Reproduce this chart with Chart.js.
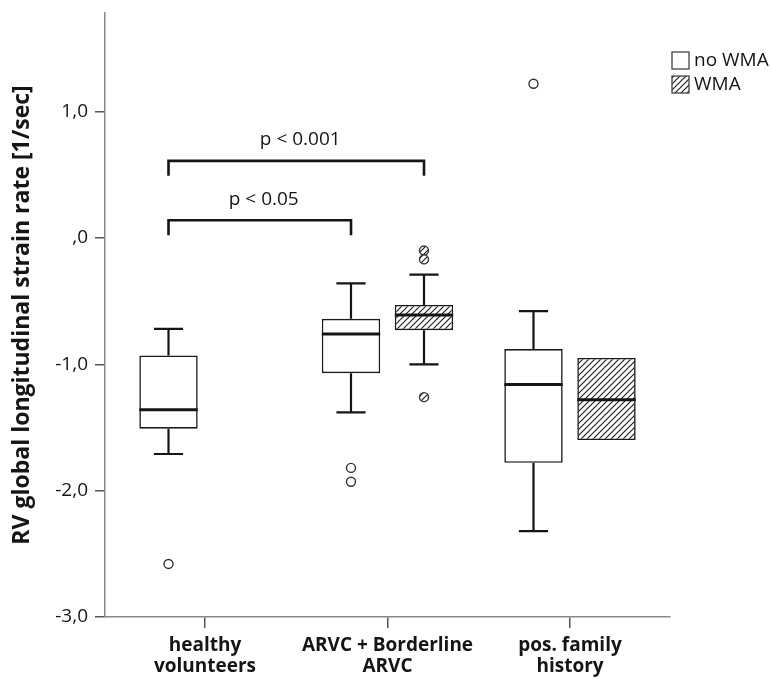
<!DOCTYPE html>
<html>
<head>
<meta charset="UTF-8">
<script src="https://cdn.jsdelivr.net/npm/chart.js@4.4.1/dist/chart.umd.min.js"></script>
<style>
  body { margin: 0; background: #fff; }
  #wrap { width: 771px; height: 679px; }
</style>
</head>
<body>
<div id="wrap"><canvas id="c"></canvas></div>
<script>
// groups on the x axis (multi-line labels)
const groups = [['healthy', 'volunteers'], ['ARVC + Borderline', 'ARVC'], ['pos. family', 'history']];
const seriesNames = ['no WMA', 'WMA'];

// no WMA boxes
const noWmaLow  = [-1.71, -1.38, -2.32];
const noWmaQ1   = [-1.51, -1.07, -1.78];
const noWmaMed  = [-1.36, -0.76, -1.16];
const noWmaQ3   = [-0.93, -0.64, -0.88];
const noWmaHigh = [-0.72, -0.36, -0.58];
const noWmaOut  = [[-2.58], [-1.82, -1.93], [1.22]];

// WMA boxes (none for healthy volunteers)
const wmaLow  = [null, -1.00, -1.60];
const wmaQ1   = [null, -0.73, -1.60];
const wmaMed  = [null, -0.61, -1.28];
const wmaQ3   = [null, -0.53, -0.95];
const wmaHigh = [null, -0.29, -0.95];
const wmaOut  = [[], [-0.10, -0.17, -1.26], []];

const yTicks = [-3, -2, -1, 0, 1];

// significance brackets: [group, series] to [group, series]
const brackets = [
  { from: [0, 0], to: [1, 0], level: 0.14, label: 'p < 0.05' },
  { from: [0, 0], to: [1, 1], level: 0.61, label: 'p < 0.001' }
];

const FONT = "'Open Sans', 'DejaVu Sans', sans-serif";
const INK = '#151515';
const CAT_PCT = 0.8;

function makeHatch() {
  const p = document.createElement('canvas');
  p.width = 6; p.height = 6;
  const g = p.getContext('2d');
  g.fillStyle = '#fff';
  g.fillRect(0, 0, 6, 6);
  g.strokeStyle = '#222';
  g.lineWidth = 1.2;
  g.beginPath();
  g.moveTo(0, 6); g.lineTo(6, 0);
  g.moveTo(-1, 1); g.lineTo(1, -1);
  g.moveTo(5, 7); g.lineTo(7, 5);
  g.stroke();
  return g.createPattern(p, 'repeat');
}
const hatch = makeHatch();

function boxData(q1, q3) {
  return q1.map((v, i) => ({ x: i + 1, y: v === null ? null : [v, q3[i]] }));
}
function outData(outs, side) {
  const pts = [];
  const shift = side * CAT_PCT / 4;
  outs.forEach((list, i) => list.forEach(v => pts.push({ x: i + 1 + shift, y: v })));
  return pts;
}

const boxStats = [
  { low: noWmaLow, med: noWmaMed, high: noWmaHigh, q1: noWmaQ1, q3: noWmaQ3 },
  { low: wmaLow, med: wmaMed, high: wmaHigh, q1: wmaQ1, q3: wmaQ3 }
];

const boxExtras = {
  id: 'boxExtras',
  afterDatasetsDraw(chart) {
    const ctx = chart.ctx, ys = chart.scales.y;
    ctx.save();
    ctx.strokeStyle = INK;
    boxStats.forEach((s, d) => {
      const meta = chart.getDatasetMeta(d);
      meta.data.forEach((bar, i) => {
        if (s.med[i] === null) return;
        const x = bar.x, hw = bar.width / 2, cw = bar.width / 4;
        // whiskers + caps
        ctx.lineWidth = 2.2;
        [[s.q3[i], s.high[i]], [s.q1[i], s.low[i]]].forEach(([edge, tip]) => {
          if (tip === null || tip === edge) return;
          const y0 = ys.getPixelForValue(edge), y1 = ys.getPixelForValue(tip);
          ctx.beginPath();
          ctx.moveTo(x, y0); ctx.lineTo(x, y1);
          ctx.moveTo(x - cw, y1); ctx.lineTo(x + cw, y1);
          ctx.stroke();
        });
        // median
        const ym = ys.getPixelForValue(s.med[i]);
        ctx.lineWidth = 3;
        ctx.beginPath();
        ctx.moveTo(x - hw, ym); ctx.lineTo(x + hw, ym);
        ctx.stroke();
      });
    });

    // brackets
    ctx.lineWidth = 2.6;
    ctx.font = '19px ' + FONT;
    ctx.fillStyle = INK;
    ctx.textAlign = 'center';
    ctx.textBaseline = 'middle';
    brackets.forEach(b => {
      const xa = chart.getDatasetMeta(b.from[1]).data[b.from[0]].x;
      const xb = chart.getDatasetMeta(b.to[1]).data[b.to[0]].x;
      const yl = ys.getPixelForValue(b.level);
      ctx.beginPath();
      ctx.moveTo(xa, yl + 15); ctx.lineTo(xa, yl); ctx.lineTo(xb, yl); ctx.lineTo(xb, yl + 15);
      ctx.stroke();
      ctx.fillText(b.label, (xa + xb) / 2 + 4, yl - 21);
    });

    // legend
    const area = chart.chartArea;
    const lx = area.right + 2, ly = area.top + 39;
    ctx.textAlign = 'left';
    ctx.font = '19px ' + FONT;
    seriesNames.forEach((name, k) => {
      const top = ly + k * 24;
      ctx.fillStyle = k === 0 ? '#fff' : hatch;
      ctx.fillRect(lx, top, 17, 17);
      ctx.lineWidth = 1.3;
      ctx.strokeStyle = '#444';
      ctx.strokeRect(lx, top, 17, 17);
      ctx.fillStyle = INK;
      ctx.fillText(name, lx + 22, top + 9);
    });
    ctx.restore();
  }
};

new Chart(document.getElementById('c'), {
  type: 'bar',
  data: {
    datasets: [
      { label: seriesNames[0], data: boxData(noWmaQ1, noWmaQ3), backgroundColor: '#fff',
        borderColor: '#1a1a1a', borderWidth: 1.6, borderSkipped: false },
      { label: seriesNames[1], data: boxData(wmaQ1, wmaQ3), backgroundColor: hatch,
        borderColor: '#1a1a1a', borderWidth: 1.6, borderSkipped: false },
      { type: 'scatter', label: 'out no WMA', data: outData(noWmaOut, -1), pointRadius: 4.5,
        pointBackgroundColor: '#fff', pointBorderColor: '#333', pointBorderWidth: 1.4 },
      { type: 'scatter', label: 'out WMA', data: outData(wmaOut, 1), pointRadius: 4.5,
        pointBackgroundColor: hatch, pointBorderColor: '#333', pointBorderWidth: 1.4 }
    ]
  },
  options: {
    responsive: true,
    maintainAspectRatio: false,
    animation: false,
    categoryPercentage: CAT_PCT,
    barPercentage: 0.8,
    layout: { padding: { top: 13, right: 101, left: 0, bottom: 0 } },
    plugins: { legend: { display: false }, tooltip: { enabled: false } },
    scales: {
      x: {
        type: 'linear',
        min: 0.452,
        max: 3.548,
        offset: false,
        afterBuildTicks: s => { s.ticks = groups.map((g, i) => ({ value: i + 1 })); },
        afterFit: s => { s.height = 62; s.paddingLeft = 0; s.paddingRight = 0; },
        grid: { drawOnChartArea: false, offset: false, tickLength: 11, color: '#555', lineWidth: 1.5 },
        border: { color: '#888', width: 1.5 },
        ticks: {
          color: INK, padding: 7, maxRotation: 0, autoSkip: false,
          font: { family: FONT, size: 19, weight: 'bold', lineHeight: 1.1 },
          callback: v => groups[v - 1]
        }
      },
      y: {
        min: -3,
        max: 1.78,
        afterBuildTicks: s => { s.ticks = yTicks.map(v => ({ value: v })); },
        afterFit: s => { s.width = 105; s.paddingTop = 0; s.paddingBottom = 0; },
        grid: { drawOnChartArea: false, tickLength: 10, color: '#555', lineWidth: 1.5 },
        border: { color: '#888', width: 1.5 },
        ticks: {
          color: INK, padding: 7, autoSkip: false,
          font: { family: FONT, size: 19 },
          callback: v => v === 0 ? ',0' : v.toFixed(1).replace('.', ',')
        },
        title: {
          display: true,
          text: 'RV global longitudinal strain rate [1/sec]',
          color: INK,
          font: { family: FONT, size: 23, weight: 'bold' },
          padding: { top: 9, bottom: 4 }
        }
      }
    }
  },
  plugins: [boxExtras]
});
</script>
</body>
</html>
